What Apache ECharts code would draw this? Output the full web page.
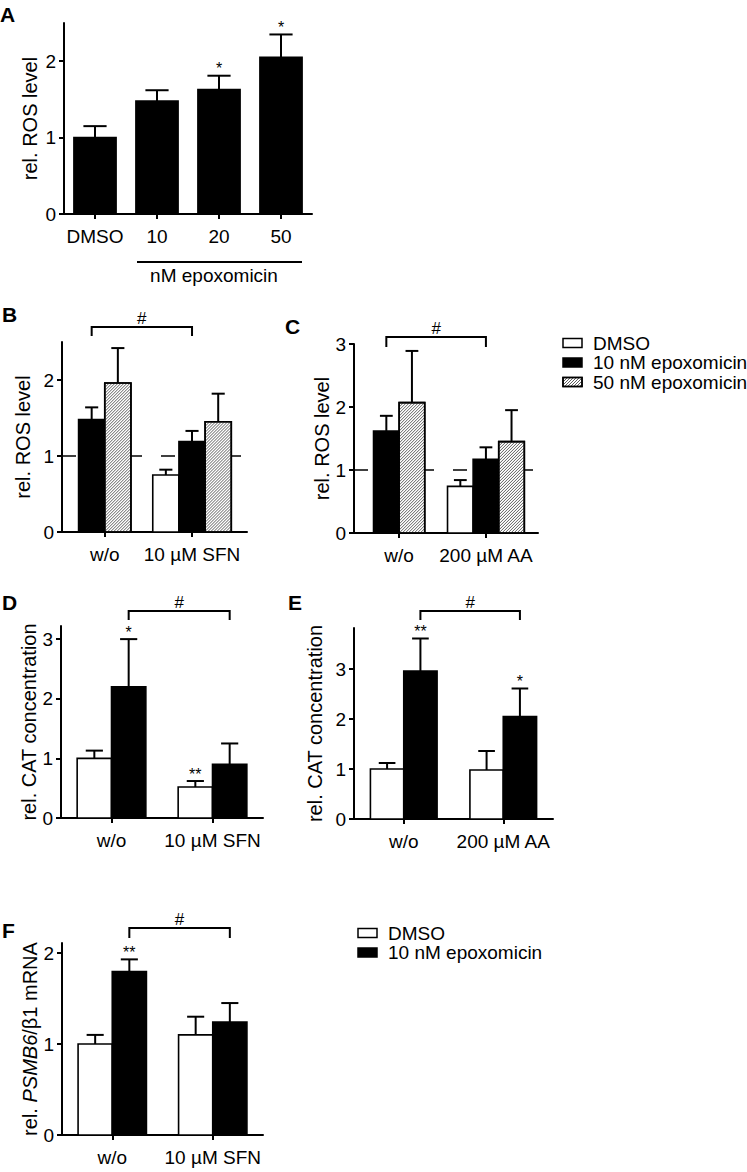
<!DOCTYPE html>
<html><head><meta charset="utf-8">
<script src="https://cdn.jsdelivr.net/npm/echarts@6/dist/echarts.min.js"></script>
<style>html,body{margin:0;padding:0;background:#fff}#c{width:747px;height:1172px}</style>
</head><body><div id="c"></div>
<script>
// ---------- DATA ----------
// Panel A
const catsA = ['DMSO', '10', '20', '50'];
const valA = [1.00, 1.48, 1.63, 2.05];
const errA = [0.15, 0.14, 0.18, 0.30];
const sigA = ['', '', '*', '*'];
const yTicksA = [0, 1, 2];

// Panel B
const catsB = ['w/o', '10 µM SFN'];
const dmsoB = [null, 0.75];
const dmsoErrB = [null, 0.07];
const epo10B = [1.48, 1.19];
const epo10ErrB = [0.16, 0.14];
const epo50B = [1.96, 1.45];
const epo50ErrB = [0.46, 0.37];
const yTicksB = [0, 1, 2];

// Panel C
const catsC = ['w/o', '200 µM AA'];
const dmsoC = [null, 0.74];
const dmsoErrC = [null, 0.10];
const epo10C = [1.62, 1.17];
const epo10ErrC = [0.24, 0.19];
const epo50C = [2.07, 1.45];
const epo50ErrC = [0.82, 0.50];
const yTicksC = [0, 1, 2, 3];

// Panel D
const catsD = ['w/o', '10 µM SFN'];
const dmsoD = [1.00, 0.52];
const dmsoErrD = [0.13, 0.10];
const dmsoSigD = ['', '**'];
const epo10D = [2.20, 0.90];
const epo10ErrD = [0.80, 0.35];
const epo10SigD = ['*', ''];
const yTicksD = [0, 1, 2, 3];

// Panel E
const catsE = ['w/o', '200 µM AA'];
const dmsoE = [1.00, 0.98];
const dmsoErrE = [0.12, 0.38];
const epo10E = [2.96, 2.05];
const epo10ErrE = [0.65, 0.56];
const epo10SigE = ['**', '*'];
const yTicksE = [0, 1, 2, 3];

// Panel F
const catsF = ['w/o', '10 µM SFN'];
const dmsoF = [1.00, 1.10];
const dmsoErrF = [0.10, 0.20];
const epo10F = [1.795, 1.24];
const epo10ErrF = [0.135, 0.21];
const epo10SigF = ['**', ''];
const yTicksF = [0, 1, 2];

const refLevel = 1;
const legendBC = ['DMSO', '10 nM epoxomicin', '50 nM epoxomicin'];
const legendF = ['DMSO', '10 nM epoxomicin'];

// ---------- LAYOUT / STYLE ----------
const FONT = '"Liberation Sans", Arial, Helvetica, sans-serif';
const panels = [
  { letter: 'A', cats: catsA, yTicks: yTicksA, yMax: 2.5, xMin: -0.5, xMax: 3.5,
    grid: { left: 64, top: 23, width: 248, height: 191 }, barFrac: 0.68, capFrac: 0.55,
    yName: 'rel. ROS level', nameGap: 24,
    series: [{ values: valA, errs: errA, sig: sigA, fill: '#000' }] },
  { letter: 'B', cats: catsB, yTicks: yTicksB, yMax: 2.5, xMin: -0.49, xMax: 1.63,
    grid: { left: 62, top: 342, width: 185, height: 190 }, barFrac: 0.30, capFrac: 0.5,
    yName: 'rel. ROS level', nameGap: 29, ref: true,
    bracket: { from: [0, 1], to: [1, 1], dy: -15, drop: 9, label: '#' },
    series: [{ values: dmsoB, errs: dmsoErrB, fill: '#fff' },
             { values: epo10B, errs: epo10ErrB, fill: '#000' },
             { values: epo50B, errs: epo50ErrB, fill: 'hatch' }] },
  { letter: 'C', cats: catsC, yTicks: yTicksC, yMax: 3, xMin: -0.52, xMax: 1.60,
    grid: { left: 354, top: 344, width: 184, height: 189 }, barFrac: 0.295, capFrac: 0.5,
    yName: 'rel. ROS level', nameGap: 20, ref: true,
    bracket: { from: [0, 1], to: [1, 1], dy: -7, drop: 10, label: '#' },
    series: [{ values: dmsoC, errs: dmsoErrC, fill: '#fff' },
             { values: epo10C, errs: epo10ErrC, fill: '#000' },
             { values: epo50C, errs: epo50ErrC, fill: 'hatch' }] },
  { letter: 'D', cats: catsD, yTicks: yTicksD, yMax: 3.22, xMin: -0.5, xMax: 1.5,
    grid: { left: 61, top: 626, width: 202, height: 192 }, barFrac: 0.34, capFrac: 0.5,
    yName: 'rel. CAT concentration', nameGap: 14,
    bracket: { from: [0, 1], to: [1, 1], dy: -15, drop: 9, label: '#' },
    series: [{ values: dmsoD, errs: dmsoErrD, sig: dmsoSigD, fill: '#fff' },
             { values: epo10D, errs: epo10ErrD, sig: epo10SigD, fill: '#000' }] },
  { letter: 'E', cats: catsE, yTicks: yTicksE, yMax: 3.82, xMin: -0.5, xMax: 1.5,
    grid: { left: 354, top: 628, width: 199, height: 191 }, barFrac: 0.335, capFrac: 0.5,
    yName: 'rel. CAT concentration', nameGap: 29,
    bracket: { from: [0, 1], to: [1, 1], dy: -17, drop: 9, label: '#' },
    series: [{ values: dmsoE, errs: dmsoErrE, fill: '#fff' },
             { values: epo10E, errs: epo10ErrE, sig: epo10SigE, fill: '#000' }] },
  { letter: 'F', cats: catsF, yTicks: yTicksF, yMax: 2.11, xMin: -0.5, xMax: 1.5,
    grid: { left: 62, top: 943, width: 201, height: 192 }, barFrac: 0.34, capFrac: 0.5,
    yName: '{n|rel. }{i|PSMB6}{n|/β1 mRNA}', nameGap: 22,
    bracket: { from: [0, 1], to: [1, 1], dy: -15, drop: 10, label: '#' },
    series: [{ values: dmsoF, errs: dmsoErrF, fill: '#fff' },
             { values: epo10F, errs: epo10ErrF, sig: epo10SigF, fill: '#000' }] }
];
const letterPos = { A: [0, 4], B: [2, 304], C: [285, 316], D: [2, 592], E: [288, 592], F: [2, 920] };

// ---------- HELPERS ----------
function slotInfo(panel, c, sIdx, sp) {
  const w = panel.barFrac * sp;
  const present = [];
  panel.series.forEach((s, i) => { if (s.values[c] != null) present.push(i); });
  const k = present.length, pos = present.indexOf(sIdx);
  return { w: w, offset: -k * w / 2 + pos * w };
}
function hatchLines(x, y, w, h, step) {
  const out = [];
  for (let k = x + y + step / 2; k < x + w + y + h; k += step) {
    const x1 = Math.max(x, k - y - h), x2 = Math.min(x + w, k - y);
    if (x2 > x1) out.push({ type: 'line', silent: true,
      shape: { x1: x1, y1: k - x1, x2: x2, y2: k - x2 },
      style: { stroke: '#333', lineWidth: 0.8 } });
  }
  return out;
}
function barRenderer(panel, sIdx) {
  const s = panel.series[sIdx];
  return function (params, api) {
    const c = api.value(0), v = api.value(1), e = api.value(2);
    const sp = api.size([1, 0])[0];
    const si = slotInfo(panel, c, sIdx, sp);
    const base = api.coord([c, 0]);
    const left = base[0] + si.offset, w = si.w, cx = left + w / 2;
    const yTop = api.coord([c, v])[1], yErr = api.coord([c, v + e])[1];
    const h = base[1] - yTop;
    const ch = [];
    const hatch = s.fill === 'hatch';
    ch.push({ type: 'rect', shape: { x: left, y: yTop, width: w, height: h },
      style: { fill: hatch ? '#fff' : s.fill, stroke: '#000', lineWidth: 1.6 } });
    if (hatch) {
      hatchLines(left, yTop, w, h, 3.0).forEach(l => ch.push(l));
      ch.push({ type: 'rect', shape: { x: left, y: yTop, width: w, height: h },
        style: { fill: 'none', stroke: '#000', lineWidth: 1.6 } });
    }
    ch.push({ type: 'line', shape: { x1: cx, y1: yTop, x2: cx, y2: yErr }, style: { stroke: '#000', lineWidth: 2 } });
    const cap = panel.capFrac * w;
    ch.push({ type: 'line', shape: { x1: cx - cap / 2, y1: yErr, x2: cx + cap / 2, y2: yErr }, style: { stroke: '#000', lineWidth: 2 } });
    const sg = s.sig ? s.sig[c] : '';
    if (sg) ch.push({ type: 'text', x: cx, y: yErr + 1,
      style: { text: sg, fill: '#000', font: '16px ' + FONT, align: 'center', verticalAlign: 'bottom' } });
    return { type: 'group', children: ch };
  };
}
function bracketRenderer(panel) {
  return function (params, api) {
    const b = panel.bracket, sp = api.size([1, 0])[0];
    const xOf = (c, si) => { const q = slotInfo(panel, c, si, sp); return api.coord([c, 0])[0] + q.offset + q.w / 2; };
    const x1 = xOf(b.from[0], b.from[1]), x2 = xOf(b.to[0], b.to[1]);
    const y = params.coordSys.y + b.dy, y2 = y + b.drop;
    return { type: 'group', children: [
      { type: 'polyline', shape: { points: [[x1, y2], [x1, y], [x2, y], [x2, y2]] },
        style: { stroke: '#000', lineWidth: 2, fill: 'none' } },
      { type: 'text', x: (x1 + x2) / 2, y: y,
        style: { text: b.label, fill: '#000', font: '17px ' + FONT, align: 'center', verticalAlign: 'bottom' } }
    ] };
  };
}
function refRenderer(params, api) {
  const cs = params.coordSys;
  const y = api.coord([0, api.value(1)])[1];
  return { type: 'line', shape: { x1: cs.x, y1: y, x2: cs.x + cs.width, y2: y },
    style: { stroke: '#000', lineWidth: 1.6, lineDash: [14, 19] } };
}

// ---------- OPTION ----------
const grids = [], xAxes = [], yAxes = [], series = [];
panels.forEach((p, i) => {
  grids.push(Object.assign({}, p.grid));
  const xIdx = p.cats.map((_, j) => j);
  xAxes.push({ gridIndex: i, type: 'value', min: p.xMin, max: p.xMax,
    axisLine: { show: true, onZero: false, lineStyle: { color: '#000', width: 2 } },
    axisTick: { show: true, length: 5, customValues: xIdx, lineStyle: { color: '#000', width: 2 } },
    axisLabel: { customValues: xIdx, formatter: v => (p.cats[Math.round(v)] || ''), margin: 13,
      fontSize: 19, color: '#000', fontFamily: FONT },
    splitLine: { show: false } });
  yAxes.push({ gridIndex: i, type: 'value', min: 0, max: p.yMax,
    axisLine: { show: true, onZero: false, lineStyle: { color: '#000', width: 2 } },
    axisTick: { show: true, length: 5, customValues: p.yTicks, lineStyle: { color: '#000', width: 2 } },
    axisLabel: { customValues: p.yTicks, margin: 8, fontSize: 19, color: '#000', fontFamily: FONT },
    splitLine: { show: false },
    name: p.yName, nameLocation: 'middle', nameRotate: 90, nameGap: p.nameGap,
    nameTextStyle: { fontSize: 20, color: '#000', fontFamily: FONT,
      rich: { n: { fontSize: 20, color: '#000', fontFamily: FONT },
              i: { fontSize: 20, color: '#000', fontFamily: FONT, fontStyle: 'italic' } } } });
  if (p.ref) series.push({ type: 'custom', xAxisIndex: i, yAxisIndex: i, z: 1, silent: true,
    renderItem: refRenderer, data: [[0, refLevel]], encode: { x: 0, y: 1 } });
  p.series.forEach((s, si) => {
    const data = [];
    s.values.forEach((v, j) => { if (v != null) data.push([j, v, s.errs[j]]); });
    series.push({ type: 'custom', xAxisIndex: i, yAxisIndex: i, z: 2, silent: true,
      renderItem: barRenderer(p, si), data: data, encode: { x: 0, y: 1 } });
  });
  if (p.bracket) series.push({ type: 'custom', xAxisIndex: i, yAxisIndex: i, z: 3, silent: true,
    renderItem: bracketRenderer(p), data: [[0, 0]], encode: { x: 0, y: 1 } });
});

// graphics: panel letters, legends, epoxomicin underline
const graphics = [];
Object.keys(letterPos).forEach(k => graphics.push({ type: 'text', left: letterPos[k][0], top: letterPos[k][1],
  style: { text: k, font: 'bold 21px ' + FONT, fill: '#000' } }));
graphics.push({ type: 'line', shape: { x1: 137, y1: 262, x2: 302, y2: 262 }, style: { stroke: '#000', lineWidth: 2 } });
graphics.push({ type: 'text', x: 214, y: 275, style: { text: 'nM epoxomicin', font: '19px ' + FONT, fill: '#000', align: 'center', verticalAlign: 'middle' } });

function legendItems(names, fills, x0, y0, dy) {
  names.forEach((nm, i) => {
    const y = y0 + i * dy, bx = x0, bw = 19, bh = 9;
    graphics.push({ type: 'rect', shape: { x: bx, y: y - bh / 2, width: bw, height: bh },
      style: { fill: fills[i] === 'hatch' ? '#fff' : fills[i], stroke: '#000', lineWidth: 1.5 } });
    if (fills[i] === 'hatch') {
      hatchLines(bx, y - bh / 2, bw, bh, 3.0).forEach(l => graphics.push(l));
      graphics.push({ type: 'rect', shape: { x: bx, y: y - bh / 2, width: bw, height: bh },
        style: { fill: 'none', stroke: '#000', lineWidth: 1.5 } });
    }
    graphics.push({ type: 'text', x: bx + 30, y: y, style: { text: nm, font: '19px ' + FONT, fill: '#000', verticalAlign: 'middle' } });
  });
}
legendItems(legendBC, ['#fff', '#000', 'hatch'], 563, 343, 19.5);
legendItems(legendF, ['#fff', '#000'], 358, 933, 19.5);

const chart = echarts.init(document.getElementById('c'), null, { renderer: 'svg', width: 747, height: 1172 });
chart.setOption({
  backgroundColor: '#fff',
  animation: false,
  grid: grids, xAxis: xAxes, yAxis: yAxes, series: series, graphic: graphics
});
</script>
</body></html>
